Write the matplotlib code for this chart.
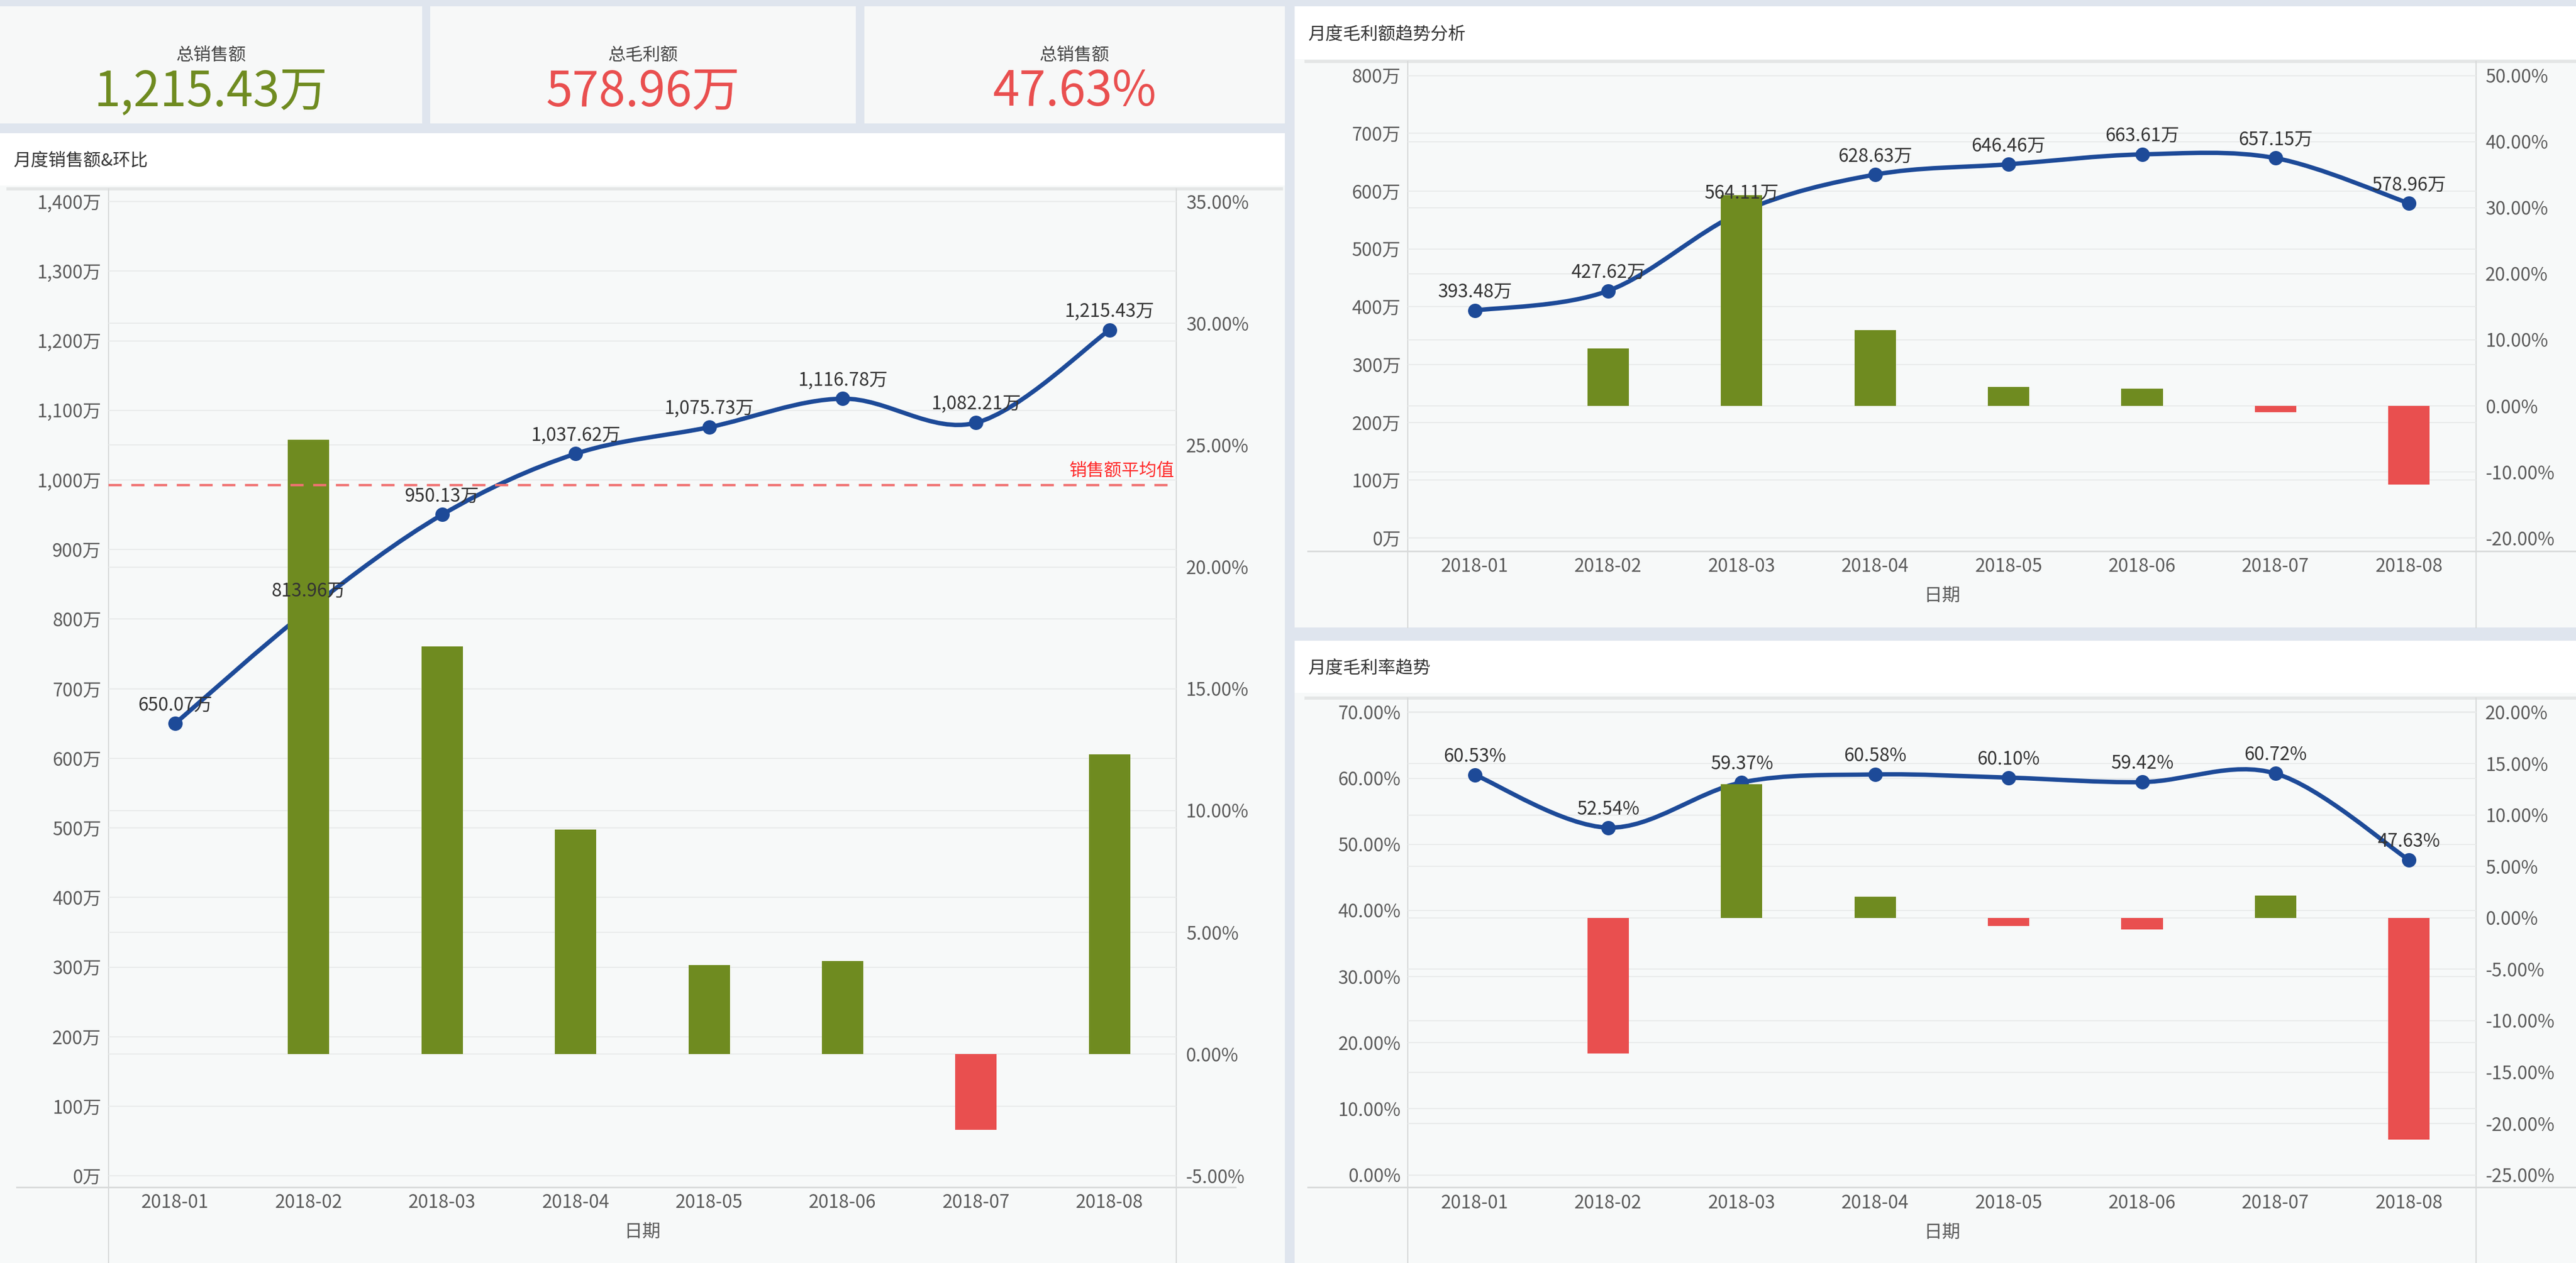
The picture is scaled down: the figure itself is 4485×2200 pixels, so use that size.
import matplotlib
matplotlib.use('Agg')
from matplotlib import pyplot as plt
from matplotlib.path import Path
from matplotlib.patches import PathPatch, Rectangle
from matplotlib.lines import Line2D
import matplotlib.transforms as mtransforms
import numpy as np

plt.rcParams['font.family'] = ['Noto Sans CJK SC', 'DejaVu Sans']

# ---- data ----
months = ['2018-01', '2018-02', '2018-03', '2018-04', '2018-05', '2018-06', '2018-07', '2018-08']

sales = [650.07, 813.96, 950.13, 1037.62, 1075.73, 1116.78, 1082.21, 1215.43]      # 万
sales_mom = [None, 25.21, 16.73, 9.21, 3.67, 3.82, -3.11, 12.31]                  # %
sales_avg = 992.74

profit = [393.48, 427.62, 564.11, 628.63, 646.46, 663.61, 657.15, 578.96]         # 万
profit_mom = [None, 8.68, 31.92, 11.44, 2.84, 2.65, -0.97, -11.90]                # %

margin = [60.53, 52.54, 59.37, 60.58, 60.10, 59.42, 60.72, 47.63]                 # %
margin_mom = [None, -13.20, 13.00, 2.04, -0.79, -1.13, 2.19, -21.56]              # %

kpi_titles = ['总销售额', '总毛利额', '总销售额']
kpi_values = ['1,215.43万', '578.96万', '47.63%']

# ---- style ----
BG = '#dfe5ee'
CARD = '#f7f8f8'
ZONE = '#f7f9f9'
BLUE = '#1d4a98'
GREEN = '#6f8b20'
RED = '#e94f4f'
TICK = '#5a5a5a'
GRID = '#e9ebeb'
EDGE = '#d8dada'

W, H = 1568.0, 769.0   # layout measured on the reference grid
fig = plt.figure(figsize=(44.85, 22), dpi=100)
fig.patch.set_facecolor(BG)


def add_rect(x0, y0, x1, y1, color):
    fig.add_artist(Rectangle((x0 / W, 1 - y1 / H), (x1 - x0) / W, (y1 - y0) / H,
                             transform=fig.transFigure, facecolor=color,
                             edgecolor='none', zorder=-10))


def add_line(xs, ys, color, lw):
    fig.add_artist(Line2D([x / W for x in xs], [1 - y / H for y in ys],
                          transform=fig.transFigure, color=color, lw=lw, zorder=-5))


def smooth_path(xs, ys):
    pts = np.column_stack([xs, ys]).astype(float)
    verts = [pts[0]]
    codes = [Path.MOVETO]
    n = len(pts)
    for i in range(n - 1):
        p0 = pts[max(i - 1, 0)]
        p1 = pts[i]
        p2 = pts[i + 1]
        p3 = pts[min(i + 2, n - 1)]
        verts += [p1 + (p2 - p0) / 6, p2 - (p3 - p1) / 6, p2]
        codes += [Path.CURVE4] * 3
    return Path(verts, codes)


def chart(box, ylim_l, ticks_l, fmt_l, ylim_r, ticks_r, fmt_r, values, lab_fmt, mom):
    x0, y0, x1, y1 = box
    ax = fig.add_axes([x0 / W, 1 - y1 / H, (x1 - x0) / W, (y1 - y0) / H])
    ax.set_facecolor('none')
    ax2 = ax.twinx()
    ax2.set_facecolor('none')
    ax.set_xlim(-0.5, len(months) - 0.5)
    ax.set_ylim(*ylim_l)
    ax2.set_ylim(*ylim_r)
    for a in (ax, ax2):
        for s in a.spines.values():
            s.set_visible(False)
        a.tick_params(length=0, labelsize=23, labelcolor=TICK)

    ax.set_yticks(ticks_l)
    ax.set_yticklabels([fmt_l(v) for v in ticks_l])
    ax2.set_yticks(ticks_r)
    ax2.set_yticklabels([fmt_r(v) for v in ticks_r])
    ax.tick_params(axis='y', pad=9)
    ax2.tick_params(axis='y', pad=12)
    ax.set_xticks(range(len(months)))
    ax.set_xticklabels(months)
    ax.tick_params(axis='x', pad=8)
    ax.set_xlabel('日期', fontsize=23, color=TICK, labelpad=14)

    # grid for both axes, kept under the line
    for t in ticks_l:
        ax.axhline(t, color=GRID, lw=1.5, zorder=0)
    blend = mtransforms.blended_transform_factory(ax.transAxes, ax2.transData)
    for t in ticks_r:
        ax.plot([0, 1], [t, t], transform=blend, color=GRID, lw=1.5, zorder=0)

    # smooth line with markers (left axis)
    ax.add_patch(PathPatch(smooth_path(range(len(values)), values), facecolor='none',
                           edgecolor=BLUE, lw=5.5, capstyle='round', zorder=2))
    ax.plot(range(len(values)), values, 'o', color=BLUE, ms=17, zorder=3)

    # month-on-month bars (right axis, drawn over the line)
    idx = [i for i, m in enumerate(mom) if m is not None]
    hv = [mom[i] for i in idx]
    ax2.bar(idx, hv, width=0.31, color=[GREEN if v >= 0 else RED for v in hv], zorder=3)

    for i, v in enumerate(values):
        ax2.annotate(lab_fmt(v), xy=(i, v), xycoords=ax.transData, xytext=(0, 23),
                     textcoords='offset points', ha='center', va='center',
                     fontsize=23, color='#333333', zorder=10)
    return ax, ax2


# ---- KPI cards ----
kpi_boxes = [(0, 4, 257, 75), (262, 4, 521, 75), (526, 4, 782, 75)]
kpi_colors = [GREEN, RED, RED]
for (x0, y0, x1, y1), t, v, c in zip(kpi_boxes, kpi_titles, kpi_values, kpi_colors):
    add_rect(x0, y0, x1, y1, CARD)
    cx = (x0 + x1) / 2 / W
    fig.text(cx, 1 - 34 / H, t, ha='center', va='center', fontsize=22, color='#444444')
    fig.text(cx, 1 - 56 / H, v, ha='center', va='center', fontsize=60, color=c,
             fontweight='light')

# ---- panels ----
panels = [
    # x0, y0, x1, y1, header bottom, title
    (0, 81, 782, 769, 113, '月度销售额&环比'),
    (788, 4, 1568, 382, 36, '月度毛利额趋势分析'),
    (788, 390, 1568, 769, 422, '月度毛利率趋势'),
]
for x0, y0, x1, y1, hb, title in panels:
    add_rect(x0, y0, x1, hb, '#ffffff')
    add_rect(x0, hb, x1, y1, ZONE)
    fig.text((x0 + 8) / W, 1 - ((y0 + hb) / 2 + 1) / H, title, ha='left', va='center',
             fontsize=22, color='#333333')

# table-like frame lines
add_line([5, 780], [115, 115], '#e4e6e6', 4)
add_line([10, 752], [722.7, 722.7], EDGE, 2)
add_line([66, 66], [115, 769], EDGE, 1.5)
add_line([716, 716], [115, 769], EDGE, 1.5)

add_line([795, 1568], [37.3, 37.3], '#e4e6e6', 4)
add_line([796, 1568], [335.4, 335.4], EDGE, 2)
add_line([857, 857], [37.3, 382], EDGE, 1.5)
add_line([1507, 1507], [37.3, 382], EDGE, 1.5)

add_line([795, 1568], [425, 425], '#e4e6e6', 4)
add_line([796, 1568], [723, 723], EDGE, 2)
add_line([857, 857], [425, 769], EDGE, 1.5)
add_line([1507, 1507], [425, 769], EDGE, 1.5)

# ---- chart 1: monthly sales ----
ax, ax2 = chart((66, 115, 716, 722.7),
                (-15.8, 1418.2), list(range(0, 1401, 100)), lambda v: f'{v:,}万',
                (-5.45, 35.52), list(range(-5, 36, 5)), lambda v: f'{v:.2f}%',
                sales, lambda v: f'{v:,.2f}万', sales_mom)
ax2.plot([-0.5, 7.5], [sales_avg, sales_avg], transform=ax.transData,
         color='#f07272', lw=3, dashes=(5.5, 4), zorder=5)
ax2.annotate('销售额平均值', xy=(7.5, sales_avg), xycoords=ax.transData,
             xytext=(-2, 18), textcoords='offset points', ha='right', va='center',
             fontsize=22, color='#ff2a2a', zorder=10)

# ---- chart 2: monthly gross profit ----
chart((857, 37.3, 1507, 335.4),
      (-22.2, 824.7), list(range(0, 801, 100)), lambda v: f'{v}万',
      (-21.94, 52.16), list(range(-20, 51, 10)), lambda v: f'{v:.2f}%',
      profit, lambda v: f'{v:,.2f}万', profit_mom)

# ---- chart 3: monthly gross margin ----
chart((857, 425, 1507, 723),
      (-1.89, 72.14), list(range(0, 71, 10)), lambda v: f'{v:.2f}%',
      (-26.21, 21.37), list(range(-25, 21, 5)), lambda v: f'{v:.2f}%',
      margin, lambda v: f'{v:.2f}%', margin_mom)

plt.savefig('out.png', dpi=100, facecolor=fig.get_facecolor())
